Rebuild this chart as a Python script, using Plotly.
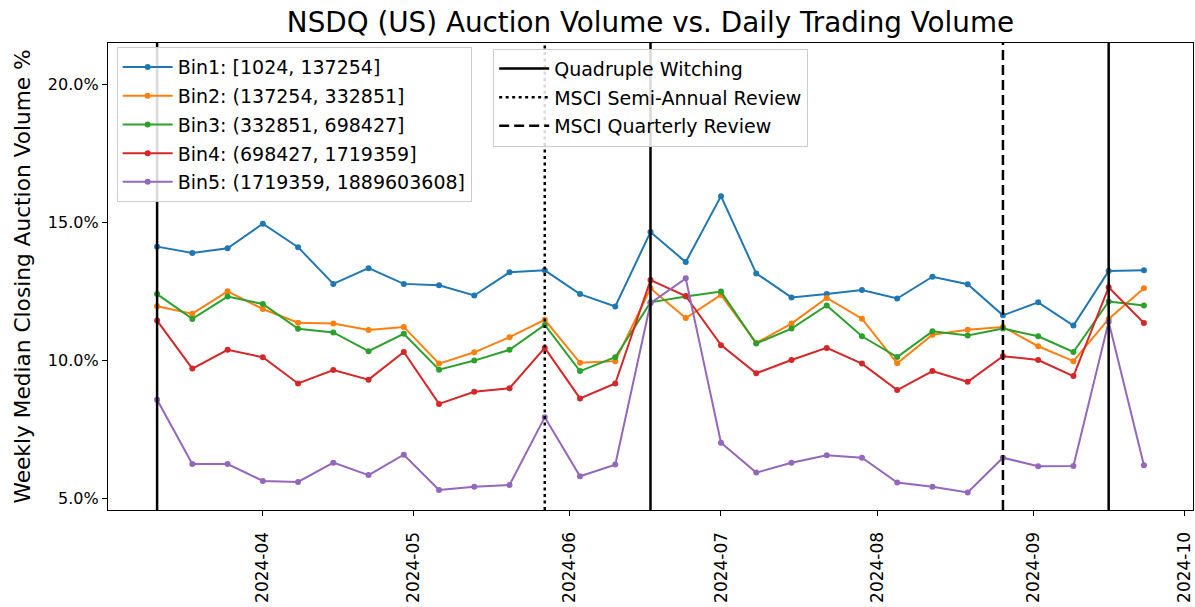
import plotly.graph_objects as go

# ---------------- data ----------------
weeks = [
    "2024-03-11", "2024-03-18", "2024-03-25", "2024-04-01", "2024-04-08", "2024-04-15",
    "2024-04-22", "2024-04-29", "2024-05-06", "2024-05-13", "2024-05-20", "2024-05-27",
    "2024-06-03", "2024-06-10", "2024-06-17", "2024-06-24", "2024-07-01", "2024-07-08",
    "2024-07-15", "2024-07-22", "2024-07-29", "2024-08-05", "2024-08-12", "2024-08-19",
    "2024-08-26", "2024-09-02", "2024-09-09", "2024-09-16", "2024-09-23",
]

bin_names = [
    "Bin1: [1024, 137254]",
    "Bin2: (137254, 332851]",
    "Bin3: (332851, 698427]",
    "Bin4: (698427, 1719359]",
    "Bin5: (1719359, 1889603608]",
]

bin1 = [14.11, 13.88, 14.05, 14.94, 14.09, 12.76, 13.33, 12.76, 12.71, 12.34, 13.18, 13.25,
        12.39, 11.94, 14.64, 13.55, 15.94, 13.14, 12.27, 12.39, 12.54, 12.23, 13.02, 12.75,
        11.62, 12.09, 11.25, 13.23, 13.25]
bin2 = [11.95, 11.68, 12.49, 11.85, 11.35, 11.32, 11.09, 11.20, 9.87, 10.28, 10.83, 11.46,
        9.90, 9.96, 12.60, 11.52, 12.36, 10.62, 11.32, 12.25, 11.50, 9.88, 10.92, 11.10,
        11.20, 10.50, 9.96, 11.49, 12.60]
bin3 = [12.39, 11.49, 12.30, 12.03, 11.13, 11.00, 10.32, 10.95, 9.65, 9.98, 10.37, 11.27,
        9.60, 10.10, 12.09, 12.30, 12.48, 10.60, 11.14, 11.98, 10.86, 10.11, 11.04, 10.89,
        11.14, 10.86, 10.29, 12.12, 11.98]
bin4 = [11.43, 9.69, 10.37, 10.10, 9.15, 9.64, 9.29, 10.29, 8.41, 8.85, 8.98, 10.44,
        8.61, 9.15, 12.90, 12.32, 10.54, 9.52, 10.00, 10.44, 9.87, 8.91, 9.60, 9.21,
        10.14, 10.00, 9.42, 12.64, 11.34]
bin5 = [8.56, 6.23, 6.23, 5.62, 5.58, 6.28, 5.83, 6.57, 5.29, 5.41, 5.47, 7.93,
        5.79, 6.21, 12.06, 12.96, 7.00, 5.92, 6.28, 6.55, 6.46, 5.56, 5.41, 5.20,
        6.46, 6.15, 6.16, 11.39, 6.19]
bins = [bin1, bin2, bin3, bin4, bin5]

colors = ["#1f77b4", "#ff7f0e", "#2ca02c", "#d62728", "#9467bd"]

quad_witching = ["2024-03-11", "2024-06-17", "2024-09-16"]
msci_semi_annual = ["2024-05-27"]
msci_quarterly = ["2024-08-26"]

x_range = ["2024-03-01 06:00", "2024-10-02 18:00"]
y_range = [4.565, 21.49]
y_ticks = [5, 10, 15, 20]
y_tick_labels = ["5.0%", "10.0%", "15.0%", "20.0%"]

FONT = "DejaVu Sans"
W, H = 1195, 607

fig = go.Figure()

for name, vals, col in zip(bin_names, bins, colors):
    fig.add_trace(go.Scatter(
        x=weeks, y=vals, name=name, mode="lines+markers",
        line=dict(color=col, width=2),
        marker=dict(color=col, size=6),
        legend="legend", legendgroup=name,
    ))


def vlines(dates):
    xs, ys = [], []
    for d in dates:
        xs += [d, d, None]
        ys += [y_range[0], y_range[1], None]
    return xs, ys


for name, dates, dash in [
    ("Quadruple Witching", quad_witching, "solid"),
    ("MSCI Semi-Annual Review", msci_semi_annual, "3px,3.5px"),
    ("MSCI Quarterly Review", msci_quarterly, "10px,5px"),
]:
    xs, ys = vlines(dates)
    fig.add_trace(go.Scatter(
        x=xs, y=ys, name=name, mode="lines",
        line=dict(color="black", width=2.5, dash=dash),
        legend="legend2", legendgroup=name, hoverinfo="skip",
    ))

fig.update_layout(
    width=W, height=H,
    margin=dict(l=108, r=2, t=43, b=97, autoexpand=False),
    paper_bgcolor="white", plot_bgcolor="white",
    font=dict(family=FONT, color="black", size=17),
    title=dict(
        text="NSDQ (US) Auction Volume vs. Daily Trading Volume",
        x=0.5, xref="paper", xanchor="center",
        y=1 - 22 / H, yref="container", yanchor="middle",
        font=dict(size=27.8, family=FONT, color="black"),
    ),
    legend=dict(
        x=0.008, y=0.991, xanchor="left", yanchor="top",
        bgcolor="rgba(255,255,255,0.85)", bordercolor="#cccccc", borderwidth=1,
        font=dict(size=19, family=FONT, color="black"),
        tracegroupgap=1, itemwidth=50,
    ),
    legend2=dict(
        x=0.355, y=0.988, xanchor="left", yanchor="top",
        bgcolor="rgba(255,255,255,0.85)", bordercolor="#cccccc", borderwidth=1,
        font=dict(size=19, family=FONT, color="black"),
        tracegroupgap=1, itemwidth=50,
    ),
    showlegend=True,
)

fig.update_xaxes(
    type="date", range=x_range, automargin=False,
    tick0="2024-04-01", dtick="M1", tickformat="%Y-%m",
    tickangle=-90, ticks="outside", ticklen=5, tickcolor="black", tickwidth=1,
    showline=True, linecolor="black", linewidth=1.2, mirror=True,
    showgrid=False, zeroline=False,
    tickfont=dict(size=17, family=FONT, color="black"),
    ticklabelstandoff=9,
)
fig.update_yaxes(
    range=y_range, tickvals=y_ticks, ticktext=y_tick_labels, automargin=False,
    ticks="outside", ticklen=5, tickcolor="black", tickwidth=1,
    showline=True, linecolor="black", linewidth=1.2, mirror=True,
    showgrid=False, zeroline=False,
    tickfont=dict(size=16, family=FONT, color="black"),
)

fig.add_annotation(
    text="Weekly Median Closing Auction Volume %",
    x=(22 - 108) / 1085, y=0.5, xref="paper", yref="paper",
    xanchor="center", yanchor="middle", textangle=-90, showarrow=False,
    font=dict(size=21.7, family=FONT, color="black"),
)

# remove the default page margin so the figure fills the window exactly
fig.write_html(
    "out.html",
    config={"displayModeBar": False},
    post_script="document.body.style.margin='0';",
)
